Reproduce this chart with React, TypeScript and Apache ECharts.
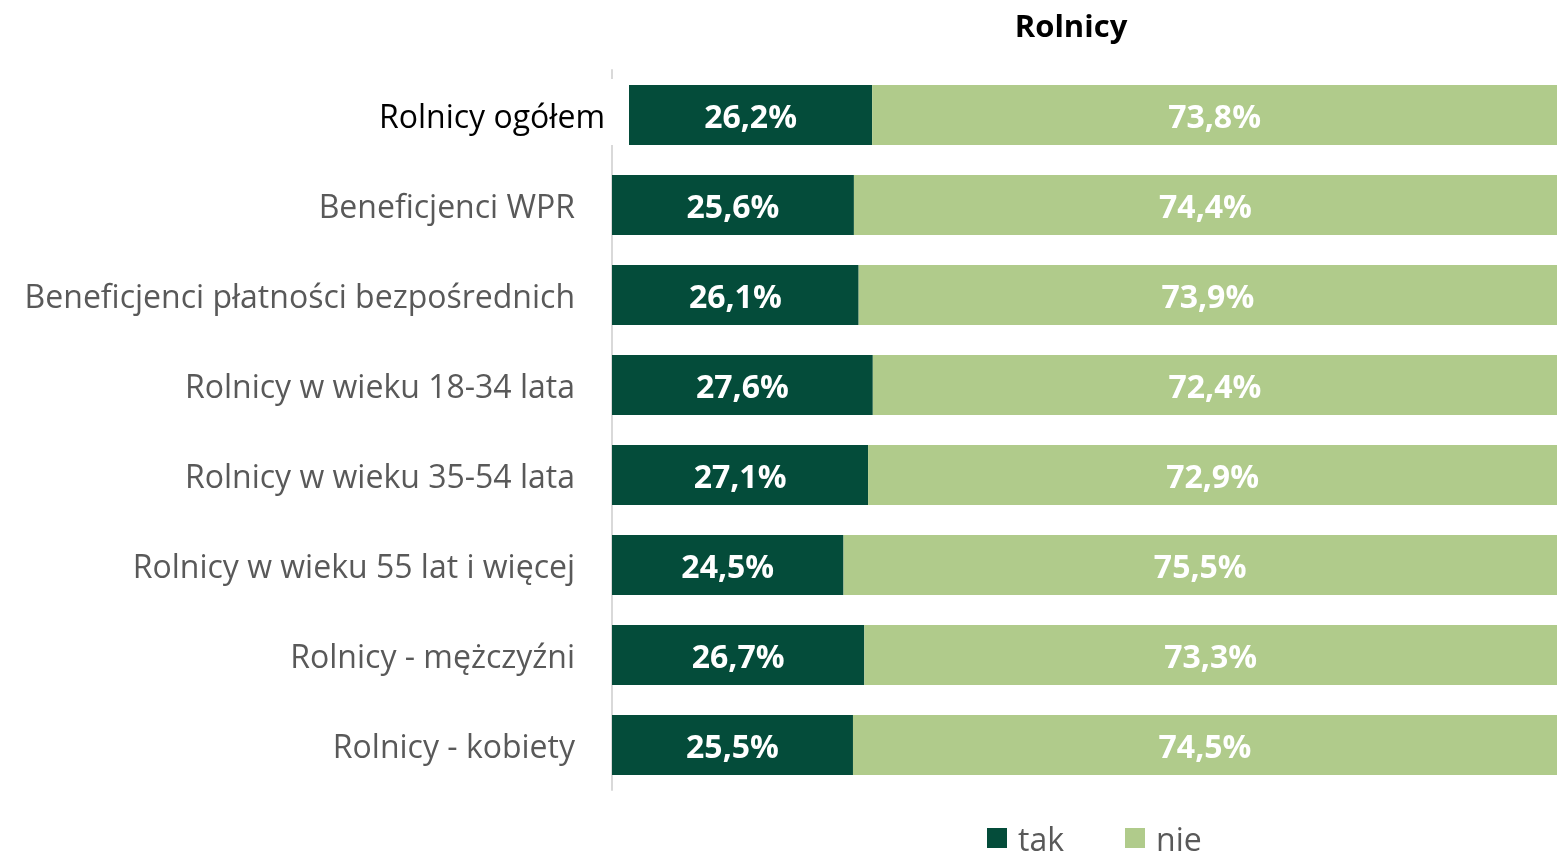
import React, { useEffect, useRef } from "react";
import * as echarts from "echarts";

const title = "Rolnicy";
const topCategory = ["Rolnicy ogółem"];
const topTak = [26.2];
const topNie = [73.8];
const categories = [
  "Beneficjenci WPR",
  "Beneficjenci płatności bezpośrednich",
  "Rolnicy w wieku 18-34 lata",
  "Rolnicy w wieku 35-54 lata",
  "Rolnicy w wieku 55 lat i więcej",
  "Rolnicy - mężczyźni",
  "Rolnicy - kobiety",
];
const takValues = [25.6, 26.1, 27.6, 27.1, 24.5, 26.7, 25.5];
const nieValues = [74.4, 73.9, 72.4, 72.9, 75.5, 73.3, 74.5];
const seriesNames = ["tak", "nie"];

const DARK = "#044c3a";
const LIGHT = "#b0cb8b";
const FONT = "Open Sans";

export default function App() {
  const ref = useRef<HTMLDivElement>(null);
  useEffect(() => {
    if (!ref.current) return;
    const chart = echarts.init(ref.current, null, { renderer: "svg" });
    const fmt = (p: any) => String(p.value).replace(".", ",") + "%";
    const labelStyle = {
      show: true,
      position: "inside",
      color: "#ffffff",
      fontWeight: "bold",
      fontSize: 32,
      fontFamily: FONT,
      formatter: fmt,
    };
    const mainCats = [""].concat(categories);
    const mainTak: any[] = ["-"].concat(takValues as any);
    const mainNie: any[] = ["-"].concat(nieValues as any);
    chart.setOption({
      animation: false,
      textStyle: { fontFamily: FONT },
      title: {
        text: title,
        left: 1066,
        textAlign: "center",
        top: 4,
        textStyle: { fontSize: 31, fontWeight: "bold", color: "#000", fontFamily: FONT },
      },
      legend: {
        data: seriesNames,
        top: 822,
        left: 987,
        padding: 0,
        itemWidth: 20,
        itemHeight: 20,
        itemGap: 61,
        icon: "rect",
        textStyle: {
          fontSize: 32,
          lineHeight: 30,
          color: "#595959",
          fontFamily: FONT,
          padding: [0, 0, 0, 6],
        },
      },
      grid: [
        { left: 612, right: 0, top: 70, height: 720 },
        { left: 629, right: 0, top: 70, height: 90 },
      ],
      xAxis: [
        { type: "value", gridIndex: 0, min: 0, max: 100, show: false },
        { type: "value", gridIndex: 1, min: 0, max: 100, show: false },
      ],
      yAxis: [
        {
          type: "category",
          gridIndex: 0,
          inverse: true,
          data: mainCats,
          axisLine: { show: true, lineStyle: { color: "#d9d9d9", width: 2 } },
          axisTick: { show: false },
          axisLabel: { fontSize: 32, color: "#595959", margin: 37, fontFamily: FONT },
        },
        {
          type: "category",
          gridIndex: 1,
          inverse: true,
          data: topCategory,
          axisLine: { show: false },
          axisTick: { show: false },
          axisLabel: { fontSize: 32, color: "#000000", margin: 24, fontFamily: FONT },
        },
      ],
      graphic: [
        {
          type: "rect",
          z: 100,
          shape: { x: 607, y: 79, width: 8, height: 66 },
          style: { fill: "#ffffff" },
        },
      ],
      series: [
        {
          name: "tak",
          type: "bar",
          stack: "a",
          xAxisIndex: 0,
          yAxisIndex: 0,
          barWidth: 60,
          data: mainTak,
          itemStyle: { color: DARK },
          label: labelStyle,
        },
        {
          name: "nie",
          type: "bar",
          stack: "a",
          xAxisIndex: 0,
          yAxisIndex: 0,
          barWidth: 60,
          data: mainNie,
          itemStyle: { color: LIGHT },
          label: labelStyle,
        },
        {
          name: "tak",
          type: "bar",
          stack: "b",
          xAxisIndex: 1,
          yAxisIndex: 1,
          barWidth: 60,
          data: topTak,
          itemStyle: { color: DARK },
          label: labelStyle,
        },
        {
          name: "nie",
          type: "bar",
          stack: "b",
          xAxisIndex: 1,
          yAxisIndex: 1,
          barWidth: 60,
          data: topNie,
          itemStyle: { color: LIGHT },
          label: labelStyle,
        },
      ],
    });
    return () => chart.dispose();
  }, []);
  return (
    <div
      ref={ref}
      style={{ position: "fixed", left: 0, top: 0, width: 1557, height: 862 }}
    />
  );
}
